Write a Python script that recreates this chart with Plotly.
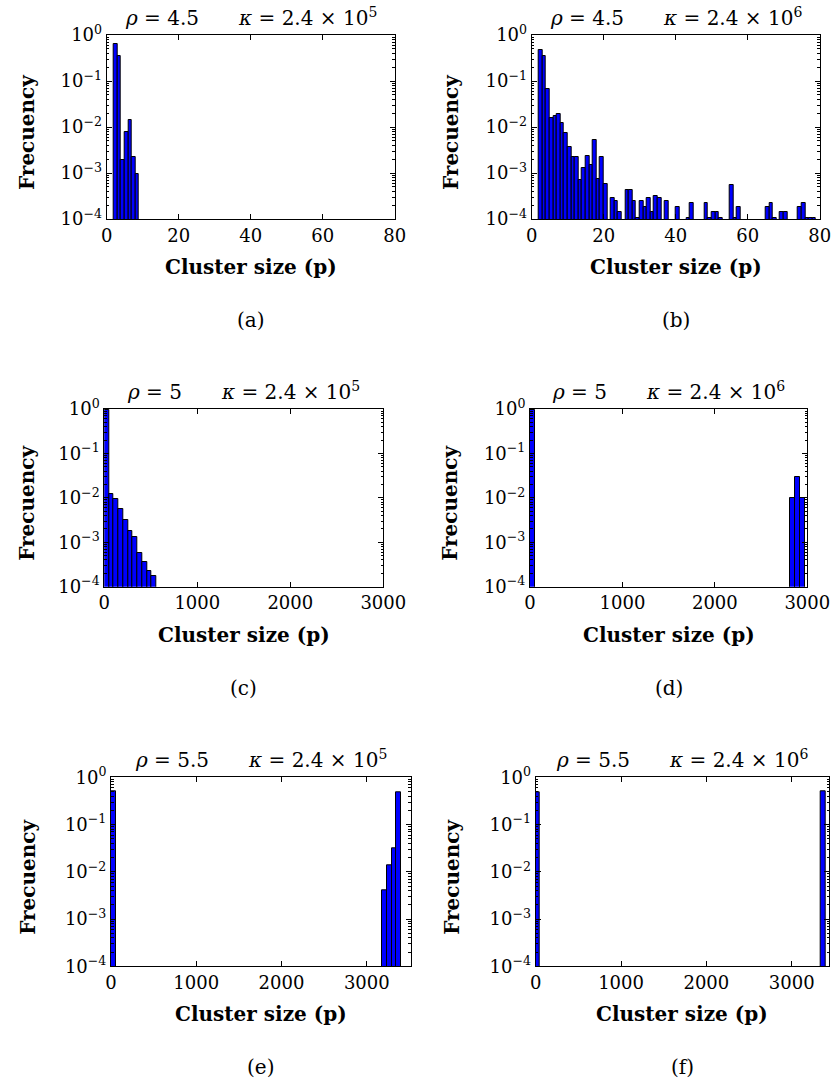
import numpy as np
import plotly.graph_objects as go

W, H = 833, 1091

# ---------------- data ----------------
# (a) rho = 4.5, kappa = 2.4e5 : unit bins, left edges
a_edges = [2, 3, 4, 5, 6, 7, 8]
a_freq = [0.64, 0.35, 0.0019, 0.0076, 0.014, 0.0022, 0.00095]
a_width = 1

# (b) rho = 4.5, kappa = 2.4e6 : unit bins, left edges
b_edges = [2, 3, 4, 5, 6, 7, 8, 9, 10, 11, 12, 13, 14, 15, 16, 17, 18, 19, 20,
           22, 23, 24, 26, 27, 28, 29, 30, 31, 32, 33, 34, 35, 37, 40, 43, 44,
           48, 49, 50, 51, 52, 55, 56, 57, 65, 66, 67, 69, 70, 74, 75, 76, 77, 78]
b_freq = [0.47, 0.35, 0.068, 0.016, 0.017, 0.019, 0.012, 0.0075, 0.0036, 0.0022,
          0.0022, 0.0007, 0.0013, 0.0024, 0.0015, 0.0052, 0.00074, 0.0022, 0.00058,
          0.00029, 0.00025, 0.000145, 0.00043, 0.00043, 0.00025, 0.000107, 0.00025,
          0.00018, 0.00029, 0.000145, 0.00032, 0.00029, 0.00025, 0.00018, 0.000107,
          0.00022, 0.00022, 0.000107, 0.000145, 0.000145, 0.000107, 0.00055,
          0.000107, 0.00018, 0.00018, 0.00022, 0.000107, 0.000145, 0.000145,
          0.00018, 0.00022, 0.000107, 0.000107, 0.000107]
b_width = 1

# (c) rho = 5, kappa = 2.4e5
c_edges = [0, 51, 102, 153, 204, 255, 306, 357, 408, 459, 510]
c_freq = [0.955, 0.0125, 0.0092, 0.0055, 0.0032, 0.0018, 0.0013, 0.00057,
          0.00036, 0.00023, 0.00017]
c_width = 51

# (d) rho = 5, kappa = 2.4e6
d_edges = [0, 2813, 2867, 2921]
d_freq = [0.95, 0.010, 0.029, 0.010]
d_width = 54

# (e) rho = 5.5, kappa = 2.4e5
e_edges = [0, 3183, 3237, 3291, 3345]
e_freq = [0.51, 0.0040, 0.014, 0.031, 0.47]
e_width = 54

# (f) rho = 5.5, kappa = 2.4e6
f_edges = [0, 3340]
f_freq = [0.49, 0.51]
f_width = [51, 60]

titles = {
    "a": ("4.5", "5"), "b": ("4.5", "6"),
    "c": ("5", "5"), "d": ("5", "6"),
    "e": ("5.5", "5"), "f": ("5.5", "6"),
}
x_ranges = {"a": [0, 80], "b": [0, 80], "c": [0, 3000], "d": [0, 3000],
            "e": [0, 3515], "f": [0, 3437]}
x_ticks = {"a": [0, 20, 40, 60, 80], "b": [0, 20, 40, 60, 80],
           "c": [0, 1000, 2000, 3000], "d": [0, 1000, 2000, 3000],
           "e": [0, 1000, 2000, 3000], "f": [0, 1000, 2000, 3000]}
y_tickvals = [1e-4, 1e-3, 1e-2, 1e-1, 1]
y_ticktext = ["10<sup>\u22124</sup>", "10<sup>\u22123</sup>", "10<sup>\u22122</sup>",
              "10<sup>\u22121</sup>", "10<sup>0</sup>"]

data = {
    "a": (a_edges, a_freq, a_width), "b": (b_edges, b_freq, b_width),
    "c": (c_edges, c_freq, c_width), "d": (d_edges, d_freq, d_width),
    "e": (e_edges, e_freq, e_width), "f": (f_edges, f_freq, f_width),
}

# ---------------- layout (pixel boxes of each plot area) ----------------
boxes = {  # left, right, top, bottom in px
    "a": (106.7, 394.7, 35, 219),
    "b": (531.7, 819.7, 35, 219),
    "c": (104.3, 383.3, 409, 586.7),
    "d": (530.0, 807.3, 409, 586.7),
    "e": (111.0, 410.7, 777.3, 966.3),
    "f": (535.7, 829.0, 777.3, 966.3),
}
ylabel_x = {"a": 27, "c": 27, "e": 28, "b": 451, "d": 450, "f": 452}

FONT = "DejaVu Serif"
TICK_SIZE = 18


def px(x):
    return x / W


def py(y):
    return 1 - y / H


minor_vals = [m * 10.0 ** e for e in range(-4, 0) for m in range(2, 10)]

fig = go.Figure()
annotations = []
for i, key in enumerate(["a", "b", "c", "d", "e", "f"]):
    n = i + 1
    xa = "x" if n == 1 else f"x{n}"
    ya = "y" if n == 1 else f"y{n}"
    edges, freq, width = data[key]
    edges = np.asarray(edges, dtype=float)
    width = np.broadcast_to(np.asarray(width, dtype=float), edges.shape)
    fig.add_trace(go.Bar(
        x=edges + width / 2, y=freq, width=width,
        marker=dict(color="#0000ff", line=dict(color="black", width=1)),
        xaxis=xa, yaxis=ya, showlegend=False, hoverinfo="skip",
    ))
    l, r, t, b = boxes[key]
    axis_common = dict(showline=True, linecolor="black", linewidth=1,
                       mirror="allticks", ticks="inside", tickcolor="black",
                       ticklen=5, tickwidth=1, showgrid=False, zeroline=False,
                       automargin=False, fixedrange=True,
                       tickfont=dict(family=FONT, size=TICK_SIZE, color="black"))
    fig.update_layout({
        ("xaxis" if n == 1 else f"xaxis{n}"): dict(
            domain=[px(l), px(r)], anchor=ya, range=x_ranges[key],
            tickmode="array", tickvals=x_ticks[key],
            ticktext=[str(v) for v in x_ticks[key]], **axis_common),
        ("yaxis" if n == 1 else f"yaxis{n}"): dict(
            domain=[py(b), py(t)], anchor=xa, type="log", range=[-4, 0],
            tickmode="array", tickvals=y_tickvals, ticktext=y_ticktext,
            minor=dict(ticks="inside", ticklen=2.5, tickcolor="black",
                       tickmode="array", tickvals=minor_vals, showgrid=False),
            **axis_common),
    })
    cx = (l + r) / 2
    rho, kexp = titles[key]
    annotations.append(dict(
        text=f"<i>\u03c1</i> = {rho}\u2003\u2003<i>\u03ba</i> = 2.4 \u00d7 10<sup>{kexp}</sup>",
        x=px(cx), y=py(t - 3), xref="paper", yref="paper",
        xanchor="center", yanchor="bottom", showarrow=False,
        font=dict(family=FONT, size=20, color="black")))
    annotations.append(dict(
        text="<b>Cluster size (p)</b>", x=px(cx), y=py(b + 48),
        xref="paper", yref="paper", xanchor="center", yanchor="middle",
        showarrow=False, font=dict(family=FONT, size=20, color="black")))
    annotations.append(dict(
        text="<b>Frecuency</b>", x=px(ylabel_x[key]), y=py((t + b) / 2 + 5),
        xref="paper", yref="paper", xanchor="center", yanchor="middle",
        textangle=-90, showarrow=False,
        font=dict(family=FONT, size=20, color="black")))
    annotations.append(dict(
        text=f"({key})", x=px(cx), y=py(b + 101),
        xref="paper", yref="paper", xanchor="center", yanchor="middle",
        showarrow=False, font=dict(family=FONT, size=20, color="black")))

fig.update_layout(
    width=W, height=H, margin=dict(l=0, r=0, t=0, b=0, pad=0),
    paper_bgcolor="white", plot_bgcolor="white",
    bargap=0, annotations=annotations, hovermode=False,
)

fig.write_html(
    "out.html",
    config={"displayModeBar": False, "responsive": False},
    post_script="document.body.style.margin='0';document.body.style.overflow='hidden';",
)
